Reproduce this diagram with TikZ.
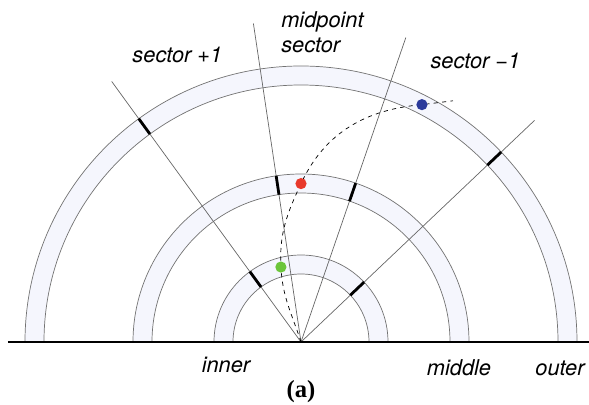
\documentclass[tikz,border=0pt]{standalone}
\usepackage{fontspec}
\newfontfamily\labelfont{TeX Gyre Heros}
\newfontfamily\captionfont{Liberation Serif}
\definecolor{ringfill}{HTML}{F5F6FD}
\definecolor{dotred}{HTML}{E8392B}
\definecolor{dotgreen}{HTML}{6CC53A}
\definecolor{dotblue}{HTML}{2B3A9B}

\begin{document}
\begin{tikzpicture}[
    ring/.style={fill=ringfill, draw=black!55, line width=0.5pt},
    spoke/.style={draw=black!60, line width=0.5pt},
    tickmark/.style={line width=2pt, line cap=butt},
    dot/.style={circle, inner sep=0pt, minimum size=0.28cm},
    lbl/.style={font=\labelfont\itshape\fontsize{15.5}{18}\selectfont, inner sep=0pt}
]
    \useasboundingbox (-7.525,-1.55) rectangle (7.2,8.55);
    \coordinate (O) at (0,0);

    % Rings: inner, middle, outer
    \foreach \rin/\rout in {1.7/2.175, 3.725/4.2, 6.425/6.9}
        \draw[ring] (\rout,0) arc (0:180:\rout) -- (-\rin,0) arc (180:0:\rin) -- cycle;

    % Sector borders
    \foreach \a [count=\i] in {43.5, 71, 98.5, 126} {
        \coordinate (s\i) at (\a:8.05);
        \draw[spoke] (O) -- (s\i);
    }

    % Sector marks on the rings
    \foreach \a/\rin/\rout in {126/6.425/6.9, 43.5/6.425/6.9, 98.5/3.725/4.2,
                               71/3.725/4.2, 126/1.7/2.175, 43.5/1.7/2.175}
        \draw[tickmark] (\a:\rin) -- (\a:\rout);

    % Ground line
    \coordinate (gl) at (-7.325,0);
    \coordinate (gr) at (7.2,0);
    \draw[line width=1pt] (gl) -- (gr);

    % Path of the point
    \coordinate (g) at (105:1.94);
    \coordinate (r) at (90:3.96);
    \coordinate (b) at (63:6.66);
    \coordinate (e) at (3.8,6.03);
    \draw[dashed, line width=0.5pt] (O) to[out=108,in=-87] (g)
        to[out=93,in=-115] (r) to[out=65,in=185] (b) -- (e);

    % Points
    \node[dot, fill=dotgreen] (gdot) at (g) {};
    \node[dot, fill=dotred] (rdot) at (r) {};
    \node[dot, fill=dotblue] (bdot) at (b) {};

    % Labels
    \node[lbl, anchor=base] (splus) at (-3.09,6.975) {sector +1};
    \node[lbl, anchor=base west, align=left] (smid) at (-0.5,7.225) {midpoint\\sector};
    \node[lbl, anchor=base] (sminus) at (4.36,6.825) {sector −1};
    \node[lbl, anchor=base] (inner) at (-1.875,-0.75) {inner};
    \node[lbl, anchor=base] (middle) at (3.95,-0.83) {middle};
    \node[lbl, anchor=base] (outer) at (6.475,-0.83) {outer};
    \node[font=\captionfont\bfseries\fontsize{17.5}{20}\selectfont, anchor=base, inner sep=0pt]
        (cap) at (0,-1.375) {(a)};

\end{tikzpicture}
\end{document}
